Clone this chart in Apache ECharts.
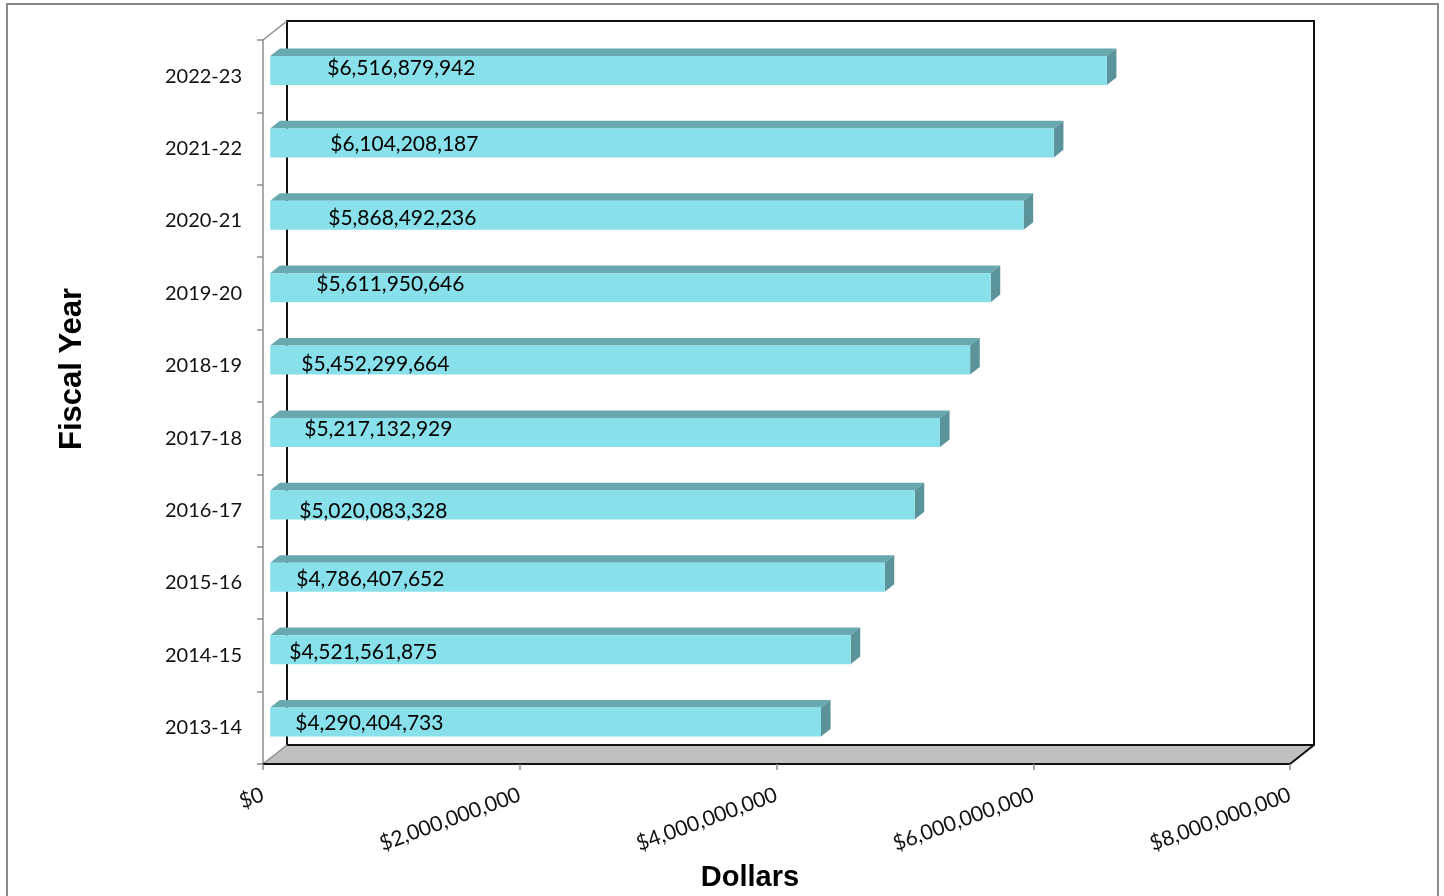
<!DOCTYPE html>
<html>
<head>
<meta charset="utf-8">
<title>Spending by Fiscal Year</title>
<script src="https://cdn.jsdelivr.net/npm/echarts@6/dist/echarts.min.js"></script>
<style>
  html, body { margin: 0; padding: 0; background: #ffffff; }
  #chart { width: 1444px; height: 896px; }
</style>
</head>
<body>
<div id="chart"></div>
<script>
// Fiscal years, oldest first (drawn bottom to top)
const categories = ['2013-14', '2014-15', '2015-16', '2016-17', '2017-18',
                    '2018-19', '2019-20', '2020-21', '2021-22', '2022-23'];
// Dollars per fiscal year
const spending = [4290404733, 4521561875, 4786407652, 5020083328, 5217132929,
                  5452299664, 5611950646, 5868492236, 6104208187, 6516879942];
// Value axis range and step
const valueMin = 0;
const valueMax = 8000000000;
const valueStep = 2000000000;

// Offsets (px) of each value label from the bar start / bar middle
const labelShiftX = [25, 19, 26, 29, 34, 31, 46, 58, 60, 57];
const labelShiftY = [1, 3, 2, 6, -3, 4, -3, 3, 1, -2];

// Oblique 3D box: full depth offset of the back wall, in px
const DEPTH_X = 24;
const DEPTH_Y = -19;
// Bars sit part-way into the box
const BAR_FRONT = 0.3;   // depth of the bar's front face
const BAR_DEPTH = 0.4;   // thickness of the bar in depth
const BAR_SIZE = 0.4;    // bar height as share of the category band

const FRONT = '#88E0EA';
const TOP = '#68A9B0';
const SIDE = '#5B939A';

function money(v) {
  return '$' + String(Math.round(v)).replace(/\B(?=(\d{3})+(?!\d))/g, ',');
}

function renderBox(params, api) {
  const cs = params.coordSys;
  const L = cs.x, T = cs.y, R = cs.x + cs.width, B = cs.y + cs.height;
  const dx = DEPTH_X, dy = DEPTH_Y;
  return {
    type: 'group',
    children: [
      { type: 'polygon',
        shape: { points: [[L, B], [R, B], [R + dx, B + dy], [L + dx, B + dy]] },
        style: { fill: '#C0C0C0' } },
      { type: 'polyline',
        shape: { points: [[L + dx, B + dy], [L + dx, T + dy], [R + dx, T + dy], [R + dx, B + dy], [R, B]] },
        style: { stroke: '#111', lineWidth: 2, fill: null } },
      { type: 'line',
        shape: { x1: L + dx, y1: B + dy, x2: R + dx, y2: B + dy },
        style: { stroke: '#111', lineWidth: 2 } },
      { type: 'line',
        shape: { x1: L, y1: B, x2: L + dx, y2: B + dy },
        style: { stroke: '#8C8C8C', lineWidth: 1.5 } },
      { type: 'line',
        shape: { x1: L, y1: T, x2: L + dx, y2: T + dy },
        style: { stroke: '#8C8C8C', lineWidth: 1.5 } }
    ]
  };
}

function renderBar(params, api) {
  const v = api.value(0);
  const cat = api.value(1);
  const p0 = api.coord([0, cat]);
  const p1 = api.coord([v, cat]);
  const band = api.size([0, 1])[1];
  const h = band * BAR_SIZE;
  const ox = DEPTH_X * BAR_FRONT, oy = DEPTH_Y * BAR_FRONT;
  const dx = DEPTH_X * BAR_DEPTH, dy = DEPTH_Y * BAR_DEPTH;
  const x0 = p0[0] + ox, x1 = p1[0] + ox;
  const yT = p0[1] + oy - h / 2, yB = yT + h;
  const i = params.dataIndex;
  return {
    type: 'group',
    children: [
      { type: 'polygon',
        shape: { points: [[x0, yT], [x1, yT], [x1 + dx, yT + dy], [x0 + dx, yT + dy]] },
        style: { fill: TOP } },
      { type: 'polygon',
        shape: { points: [[x1, yT], [x1 + dx, yT + dy], [x1 + dx, yB + dy], [x1, yB]] },
        style: { fill: SIDE } },
      { type: 'rect',
        shape: { x: x0, y: yT, width: x1 - x0, height: h },
        style: { fill: FRONT } },
      { type: 'text',
        x: x0 + labelShiftX[i],
        y: (yT + yB) / 2 + labelShiftY[i],
        style: {
          text: money(v),
          font: '21px Lato, "Noto Sans", sans-serif',
          fill: '#000',
          align: 'left',
          verticalAlign: 'middle'
        } }
    ]
  };
}

const chart = echarts.init(document.getElementById('chart'), null, { renderer: 'canvas' });

chart.setOption({
  animation: false,
  backgroundColor: '#ffffff',
  grid: { left: 263, right: 154, top: 40, bottom: 132, containLabel: false },
  xAxis: {
    type: 'value',
    min: valueMin,
    max: valueMax,
    interval: valueStep,
    z: 3,
    splitLine: { show: false },
    axisLine: { show: true, lineStyle: { color: '#111', width: 2 } },
    axisTick: { show: true, length: 6, lineStyle: { color: '#8C8C8C', width: 1.5 } },
    axisLabel: {
      rotate: 20,
      margin: 30,
      color: '#111',
      fontFamily: 'Lato, "Noto Sans", sans-serif',
      fontSize: 21,
      formatter: money
    }
  },
  yAxis: {
    type: 'category',
    data: categories,
    z: 3,
    axisLine: { show: true, lineStyle: { color: '#8C8C8C', width: 1.5 } },
    axisTick: { show: true, length: 6, alignWithLabel: false, lineStyle: { color: '#8C8C8C', width: 1.5 } },
    axisLabel: {
      margin: 21,
      color: '#111',
      fontFamily: 'Lato, "Noto Sans", sans-serif',
      fontSize: 20,
      lineHeight: 20,
      padding: [5, 0, 0, 0]
    },
    splitLine: { show: false }
  },
  graphic: [
    { type: 'rect', z: 0,
      shape: { x: 7, y: 4, width: 1431, height: 900 },
      style: { fill: null, stroke: '#8A8A8A', lineWidth: 2 } },
    { type: 'text', x: 72, y: 369, rotation: Math.PI / 2, z: 5,
      style: { text: 'Fiscal Year', font: 'bold 31px "Liberation Sans", Arial, sans-serif',
               fill: '#000', align: 'center', verticalAlign: 'middle' } },
    { type: 'text', x: 750, y: 878, z: 5,
      style: { text: 'Dollars', font: 'bold 29px "Liberation Sans", Arial, sans-serif',
               fill: '#000', align: 'center', verticalAlign: 'middle' } }
  ],
  series: [
    {
      type: 'custom',
      name: 'box',
      z: 1,
      silent: true,
      renderItem: renderBox,
      data: [[valueMin, 0]],
      encode: { x: 0, y: 1 }
    },
    {
      type: 'custom',
      name: 'Spending',
      z: 2,
      renderItem: renderBar,
      data: spending.map((v, i) => [v, i]),
      encode: { x: 0, y: 1 }
    }
  ]
});
</script>
</body>
</html>
